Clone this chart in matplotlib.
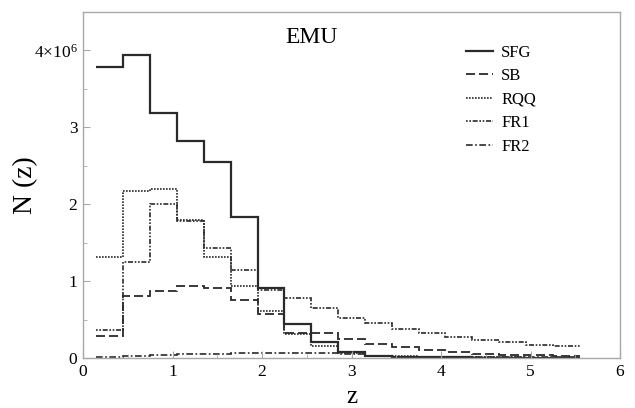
import matplotlib
matplotlib.use("Agg")
import matplotlib.pyplot as plt
from matplotlib.ticker import MultipleLocator, FixedLocator, FixedFormatter

# bin edges in z
edges = [0.15, 0.45, 0.75, 1.05, 1.35, 1.65, 1.95, 2.25, 2.55, 2.85,
         3.15, 3.45, 3.75, 4.05, 4.35, 4.65, 4.95, 5.25, 5.55]

# N(z) in units of 1e6
sfg = [3.79, 3.94, 3.19, 2.82, 2.55, 1.83, 0.91, 0.44, 0.21, 0.08,
       0.03, 0.012, 0.01, 0.008, 0.006, 0.005, 0.004, 0.003]
sb = [0.28, 0.81, 0.87, 0.93, 0.91, 0.76, 0.57, 0.33, 0.33, 0.25,
      0.185, 0.14, 0.10, 0.075, 0.055, 0.045, 0.035, 0.03]
rqq = [1.32, 2.17, 2.20, 1.80, 1.32, 0.93, 0.61, 0.31, 0.15, 0.07,
       0.03, 0.02, 0.015, 0.012, 0.01, 0.008, 0.006, 0.005]
fr1 = [0.37, 1.25, 2.00, 1.78, 1.43, 1.15, 0.88, 0.78, 0.65, 0.52,
       0.45, 0.38, 0.32, 0.27, 0.24, 0.21, 0.17, 0.15]
fr2 = [0.01, 0.026, 0.04, 0.052, 0.058, 0.062, 0.063, 0.063, 0.06, 0.055,
       0.02, 0.015, 0.012, 0.01, 0.01, 0.008, 0.008, 0.007]

labels = ["SFG", "SB", "RQQ", "FR1", "FR2"]
x_ticks = [0, 1, 2, 3, 4, 5, 6]
y_ticks = [0, 1, 2, 3, 4]
y_tick_labels = ["0", "1", "2", "3", r"4$\times$10$^{6}$"]

plt.rcParams["font.family"] = ["Liberation Serif", "DejaVu Serif"]
plt.rcParams["mathtext.fontset"] = "custom"
plt.rcParams["mathtext.rm"] = "Liberation Serif"
plt.rcParams["mathtext.it"] = "Liberation Serif:italic"

W, H = 635, 408
fig = plt.figure(figsize=(6.35, 4.08), dpi=100)
ax = fig.add_axes([83 / W, 1 - 358 / H, 537 / W, 346 / H])

col = "#2a2a2a"
styles = [
    dict(linestyle="-", linewidth=1.6),
    dict(linestyle=(0, (5, 2.2)), linewidth=1.3),
    dict(linestyle=(0, (1, 0.8)), linewidth=1.2),
    dict(linestyle=(0, (1, 1, 1, 1, 3, 1)), linewidth=1.2),
    dict(linestyle=(0, (4, 1.5, 1, 1.5)), linewidth=1.2),
]
series = [sfg, sb, rqq, fr1, fr2]
for vals, lab, st in zip(series, labels, styles):
    ax.stairs(vals, edges, baseline=None, color=col, label=lab, **st)

ax.set_xlim(0, 6)
ax.set_ylim(0, 4.5)

for s in ax.spines.values():
    s.set_color("#a8a8a8")
    s.set_linewidth(1.0)

ax.xaxis.set_major_locator(FixedLocator(x_ticks))
ax.xaxis.set_minor_locator(MultipleLocator(0.5))
ax.yaxis.set_major_locator(FixedLocator(y_ticks))
ax.yaxis.set_major_formatter(FixedFormatter(y_tick_labels))
ax.yaxis.set_minor_locator(MultipleLocator(0.5))
ax.tick_params(which="both", direction="in", color="#a8a8a8", top=False, right=False)
ax.tick_params(which="major", length=5, labelsize=12.5, pad=4)
ax.tick_params(which="minor", length=3)

ax.set_xlabel("z", fontsize=18, va="baseline")
ax.xaxis.set_label_coords(0.5, -(403 - 358) / 346)
ax.set_ylabel("N (z)", fontsize=20, va="center")
ax.yaxis.set_label_coords((26 - 83) / 537, 0.5)

ax.text(0.425, (358 - 27) / 346, "EMU", transform=ax.transAxes,
        ha="center", va="top", fontsize=17)

leg = ax.legend(loc="upper left", bbox_to_anchor=(0.701, 0.925), frameon=False,
                fontsize=12, handlelength=1.6, handletextpad=0.5,
                labelspacing=0.45, borderaxespad=0)

fig.savefig("out.png", dpi=100)
